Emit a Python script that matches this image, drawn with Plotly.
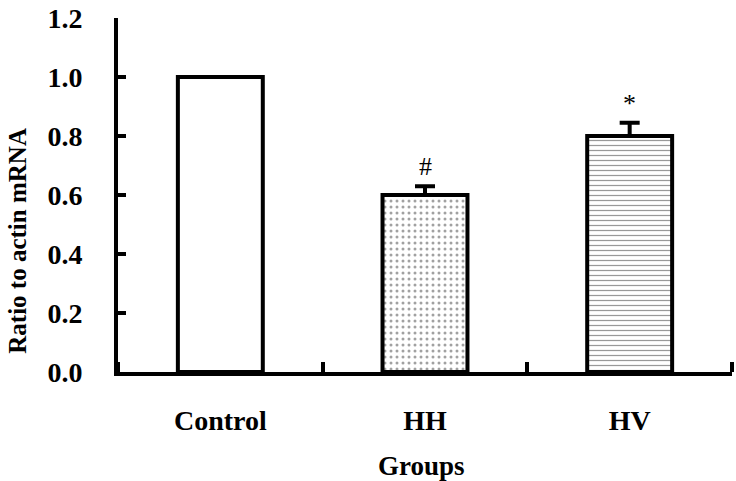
import plotly.graph_objects as go

groups = ["Control", "HH", "HV"]
ratio = [1.0, 0.6, 0.8]
err_up = [None, 0.03, 0.045]
markers = ["", "#", "*"]
y_ticks = [0.0, 0.2, 0.4, 0.6, 0.8, 1.0, 1.2]
y_ticklabels = ["0.0", "0.2", "0.4", "0.6", "0.8", "1.0", "1.2"]

FONT = "Liberation Serif"

xpos = list(range(len(groups)))
boundaries = [i - 0.5 for i in range(len(groups) + 1)]

fig = go.Figure()
fig.add_trace(go.Bar(
    x=xpos, y=ratio,
    marker=dict(
        color="white",
        line=dict(color="black", width=4),
        pattern=dict(shape=["", ".", "-"], fgcolor=["#000000", "#444444", "#333333"],
                     bgcolor="white", size=[6, 6, 5], solidity=[0.2, 0.2, 0.25]),
    ),
    error_y=dict(type="data", array=[e if e is not None else 0 for e in err_up],
                 arrayminus=[0, 0, 0], symmetric=False,
                 color="black", thickness=4, width=10),
    width=0.415,
))

annotations = []
for xi, v, e, m in zip(xpos, ratio, err_up, markers):
    if m:
        annotations.append(dict(x=xi, y=v + (e or 0) + 0.065, xref="x", yref="y",
                                text=m, showarrow=False,
                                font=dict(family=FONT, size=26, color="black")))

annotations.append(dict(x=0.494, y=-0.266, xref="paper", yref="paper", text="<b>Groups</b>",
                        showarrow=False, xanchor="center", yanchor="middle",
                        font=dict(family=FONT, size=27, color="black")))
annotations.append(dict(x=-0.165, y=0.37, xref="paper", yref="paper", text="<b>Ratio to actin mRNA</b>",
                        showarrow=False, xanchor="center", yanchor="middle", textangle=-90,
                        font=dict(family=FONT, size=25, color="black")))

fig.update_layout(
    width=736, height=481,
    margin=dict(l=118, r=4, t=18, b=109, autoexpand=False),
    plot_bgcolor="white", paper_bgcolor="white",
    showlegend=False,
    annotations=annotations,
    xaxis=dict(range=[boundaries[0], boundaries[-1]],
               tickvals=xpos, ticktext=groups, ticks="",
               minor=dict(tickvals=boundaries, ticks="inside", ticklen=10,
                          tickwidth=4, tickcolor="black", showgrid=False),
               showline=True, linecolor="black", linewidth=4,
               showgrid=False, zeroline=False, automargin=False,
               tickfont=dict(family=FONT, size=28, color="black", weight="bold"),
               ticklabelstandoff=20),
    yaxis=dict(range=[0, 1.2], tickvals=y_ticks, ticktext=y_ticklabels,
               ticks="inside", ticklen=8, tickwidth=4, tickcolor="black",
               showline=True, linecolor="black", linewidth=4,
               showgrid=False, zeroline=False, automargin=False,
               tickfont=dict(family=FONT, size=28, color="black", weight="bold"),
               ticklabelstandoff=26),
)

fig.write_html("out.html", config={"displayModeBar": False},
               post_script="document.body.style.margin='0';")
